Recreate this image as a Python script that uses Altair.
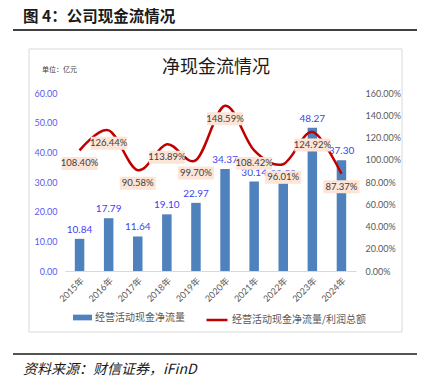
import altair as alt
import pandas as pd

# ---- data ----
years = ["2015年", "2016年", "2017年", "2018年", "2019年",
         "2020年", "2021年", "2022年", "2023年", "2024年"]
cash_flow = [10.84, 17.79, 11.64, 19.10, 22.97, 34.37, 30.14, 29.59, 48.27, 37.30]
ratio = [1.0840, 1.2644, 0.9058, 1.1389, 0.9970, 1.4859, 1.0842, 0.9601, 1.2492, 0.8737]
left_ticks = [0, 10, 20, 30, 40, 50, 60]
right_ticks = [0, 0.2, 0.4, 0.6, 0.8, 1.0, 1.2, 1.4, 1.6]
series_bar = "经营活动现金净流量"
series_line = "经营活动现金净流量/利润总额"
header_text = ["图 4：公司现金流情况"]
chart_title = ["净现金流情况"]
unit_note = ["单位：亿元"]
source_note = ["资料来源：财信证券，iFinD"]

CJK = "Noto Sans CJK SC"
NUM = "Lato, Noto Sans CJK SC"

df = pd.DataFrame({"year": years, "cf": cash_flow, "ratio": ratio,
                   "s1": series_bar, "s2": series_line})

x_axis = alt.Axis(title=None, labelAngle=-45, labelColor="#595959",
                  labelFontSize=9, labelFont=NUM, domainColor="#d9d9d9",
                  domainWidth=1, ticks=False, labelPadding=5, grid=False)
x_scale = alt.Scale(paddingInner=0, paddingOuter=0)
x_enc = alt.X("year:N", sort=years, scale=x_scale, axis=x_axis)

left_axis = alt.Axis(title=None, values=left_ticks, format=".2f",
                     labelColor="#5a5af0", labelFont=NUM, labelFontSize=9,
                     grid=False, domain=False, ticks=False, labelPadding=8)
right_axis = alt.Axis(title=None, orient="right", values=right_ticks, format=".2%",
                      labelColor="#595959", labelFont=NUM, labelFontSize=9,
                      grid=False, domain=False, ticks=False, labelPadding=9)
y_left = alt.Y("cf:Q", scale=alt.Scale(domain=[0, 60]), axis=left_axis)
y_right = alt.Y("ratio:Q", scale=alt.Scale(domain=[0, 1.6]), axis=right_axis)

base = alt.Chart(df)

bars = base.mark_bar(size=9.5).encode(
    x=x_enc,
    y=y_left,
    fill=alt.Fill("s1:N", scale=alt.Scale(range=["#4f81bd"]),
                  legend=alt.Legend(title=None, orient="none", legendX=8, legendY=215,
                                    symbolType="M-1,-0.3L1,-0.3L1,0.3L-1,0.3Z",
                                    symbolSize=361, symbolStrokeWidth=0,
                                    labelFont=CJK, labelFontSize=10,
                                    labelColor="#595959", labelOffset=3, padding=0)),
)

bar_labels = base.mark_text(dy=-9, color="#3f3ff0", fontSize=10, font=NUM).encode(
    x=x_enc,
    y=y_left,
    text=alt.Text("cf:Q", format=".2f"),
)

left = alt.layer(bars, bar_labels)

line = base.mark_line(interpolate="cardinal", strokeWidth=2.5).encode(
    x=x_enc,
    y=y_right,
    stroke=alt.Stroke("s2:N", scale=alt.Scale(range=["#c00000"]),
                      legend=alt.Legend(title=None, orient="none", legendX=140, legendY=215,
                                        symbolType="stroke", symbolSize=441,
                                        symbolStrokeWidth=2.5,
                                        labelFont=CJK, labelFontSize=10,
                                        labelColor="#595959", labelOffset=3, padding=0)),
)

box_shape = "M-1,-0.36L1,-0.36L1,0.36L-1,0.36Z"
label_boxes = base.mark_point(shape=box_shape, size=1296, filled=True, fill="#fce4d6",
                              opacity=1, strokeWidth=0, yOffset=13).encode(
    x=x_enc,
    y=y_right,
)

ratio_labels = base.mark_text(dy=13, color="#404040", fontSize=9.5, font=NUM).encode(
    x=x_enc,
    y=y_right,
    text=alt.Text("ratio:Q", format=".2%"),
)

right = alt.layer(line, label_boxes, ratio_labels)

# ---- decorations (page furniture) ----
one = pd.DataFrame({"k": [0]})
frame = alt.Chart(one).mark_rect(fillOpacity=0, stroke="#d9d9d9", strokeWidth=1).encode(
    x=alt.value(-36), x2=alt.value(337), y=alt.value(-44), y2=alt.value(239))
header = alt.Chart(pd.DataFrame({"t": header_text})).mark_text(
    align="left", baseline="middle", fontSize=15.5, fontWeight="bold", font=CJK,
    color="#1a1a1a").encode(x=alt.value(-42), y=alt.value(-76), text="t:N")
header_rule = alt.Chart(one).mark_rule(color="#404040", strokeWidth=2).encode(
    x=alt.value(-52), x2=alt.value(355), y=alt.value(-63))
title = alt.Chart(pd.DataFrame({"t": chart_title})).mark_text(
    align="center", baseline="middle", fontSize=18, font=CJK,
    color="#1a1a1a").encode(x=alt.value(151), y=alt.value(-25), text="t:N")
unit = alt.Chart(pd.DataFrame({"t": unit_note})).mark_text(
    align="left", baseline="middle", fontSize=7, font=CJK,
    color="#404040").encode(x=alt.value(-23), y=alt.value(-23), text="t:N")
bottom_rule = alt.Chart(one).mark_rule(color="#1a1a1a", strokeWidth=1.5).encode(
    x=alt.value(-52), x2=alt.value(355), y=alt.value(261))
source = alt.Chart(pd.DataFrame({"t": source_note})).mark_text(
    align="left", baseline="middle", fontSize=14, fontStyle="italic", font=CJK,
    color="#1a1a1a").encode(x=alt.value(-42), y=alt.value(277), text="t:N")

chart = alt.layer(
    frame, left, right, header, header_rule, title, unit, bottom_rule, source
).resolve_scale(y="independent", fill="independent", stroke="independent").properties(
    width=291, height=178,
    background="white",
    autosize=alt.AutoSizeParams(type="none"),
    padding={"left": 57, "top": 85, "right": 61, "bottom": 111},
).configure_view(stroke=None)

chart.save("out.html", embed_options={"renderer": "svg", "actions": False})
